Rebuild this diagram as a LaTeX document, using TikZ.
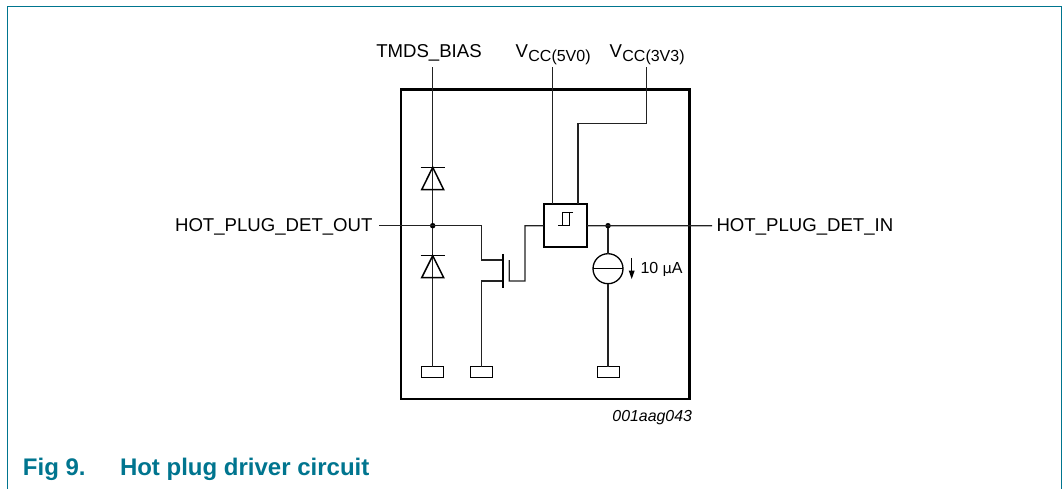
\documentclass[tikz,border=0pt]{standalone}
\usepackage{fontspec}
\setmainfont{Liberation Sans}
\newfontfamily\greekf{DejaVu Sans}
\definecolor{frameteal}{HTML}{00758F}
\definecolor{wirec}{HTML}{222222}
\newcommand{\vsub}[1]{V\kern0.5pt\raisebox{-4.5pt}{\fontsize{16}{18}\selectfont #1}}
\tikzset{
  every node/.style={outer sep=0pt},
  wire/.style={draw=wirec,line width=1.3pt},
  thick box/.style={draw=black,line width=2.4pt},
  padbox/.style={draw=black,line width=1pt,minimum width=22pt,minimum height=11pt,inner sep=0pt},
  junction/.style={circle,fill=black,inner sep=0pt,minimum size=5.5pt},
  lab/.style={inner sep=0pt,font=\fontsize{18.6}{22}\selectfont},
  dev/.style={draw=black,line width=1.5pt},
}
\begin{document}
\begin{tikzpicture}[x=1pt,y=-1pt]
\useasboundingbox (0,0) rectangle (1063,489);
\fill[white] (0,0) rectangle (1063,489);
\draw[frameteal,line width=1.2pt] (7.5,489) -- (7.5,6.5) -- (1061.5,6.5) -- (1061.5,489);

% outer box
\node[thick box,minimum width=288.5pt,minimum height=309.5pt,inner sep=0pt,anchor=north west] (chip) at (400.8,89.7) {};

% labels
\node[lab,anchor=base] (tmds) at (429,58) {TMDS\_BIAS};
\node[lab,anchor=base west] (v5) at (515.5,57.5) {\vsub{CC(5V0)}};
\node[lab,anchor=base west] (v3) at (609.5,57.5) {\vsub{CC(3V3)}};
\node[lab,anchor=base east] (hout) at (372.5,232) {HOT\_PLUG\_DET\_OUT};
\node[lab,anchor=base west] (hin) at (716.5,232) {HOT\_PLUG\_DET\_IN};
\node[inner sep=0pt,anchor=base west,font=\fontsize{16}{19}\selectfont] (ua) at (640.5,273.5) {10 {\greekf\fontsize{14.5}{17}\selectfont µ}A};
\node[inner sep=0pt,anchor=base east,font=\fontsize{15.9}{19}\selectfont\itshape] (code) at (692,421.5) {001aag043};
\node[inner sep=0pt,anchor=base west,text=frameteal,font=\fontsize{24}{28}\selectfont\bfseries] (figno) at (23,475.5) {Fig 9.};
\node[inner sep=0pt,anchor=base west,text=frameteal,font=\fontsize{24}{28}\selectfont\bfseries] (cap) at (120,475.5) {Hot plug driver circuit};

% Schmitt block
\node[thick box,fill=white,minimum width=43.5pt,minimum height=43.3pt,inner sep=0pt,anchor=north west] (sch) at (543.7,204) {};
\draw[draw=black,line width=1pt] (558,226) -- (569,226) -- (569,213) (573,213) -- (562.3,213) -- (562.3,226);

% named points
\coordinate (tmdsTop) at (432.7,67.3);
\coordinate (v5Top) at (552.3,67.3);
\coordinate (v3Top) at (646.3,67.3);
\coordinate (hoL) at (379,225.7);
\coordinate (hiR) at (712,225.7);
\node[junction] (j1) at (432.7,225.7) {};
\node[junction] (j2) at (608,225.7) {};
\node[padbox,fill=white] (p1) at (432.7,372.2) {};
\node[padbox,fill=white] (p2) at (481.7,372.2) {};
\node[padbox,fill=white] (p3) at (608,372.2) {};
\node[draw=black,line width=1.3pt,circle,minimum size=30pt,inner sep=0pt] (cs) at (608,268.7) {};

% wires
\draw[wire] (tmdsTop) -- (j1) -- (p1.north);
\draw[wire] (v5Top) -- (552.3,204);
\draw[wire] (v3Top) -- (646.3,123.7) -- (578,123.7) -- (578,204);
\draw[wire] (hoL) -- (481.7,225.7) -- (481.7,260) -- (503,260);
\draw[wire] (p2.north) -- (481.7,281) -- (503,281);
\draw[wire] (509.3,260) -- (509.3,281) -- (525,281) -- (525,225.7) -- (sch.west);
\draw[wire] (sch.east) -- (hiR);
\draw[wire] (j2) -- (cs.north);
\draw[wire] (cs.south) -- (p3.north);
\draw[draw=black,line width=1pt] (cs.west) -- (cs.east);

% gate
\draw[draw=black,line width=2.2pt] (503.3,254) -- (503.3,287.7);

% diodes
\draw[dev] (420.7,167.3) -- (444.7,167.3);
\draw[dev,line join=miter] (432.7,167.3) -- (421.7,189.7) -- (443.7,189.7) -- cycle;
\draw[dev] (420.7,255.7) -- (444.7,255.7);
\draw[dev,line join=miter] (432.7,255.7) -- (421.7,277.7) -- (443.7,277.7) -- cycle;

% current arrow
\draw[draw=black,line width=1pt] (631.7,258) -- (631.7,272);
\fill[black] (628.7,270.5) -- (634.7,270.5) -- (631.7,279) -- cycle;
\end{tikzpicture}
\end{document}
